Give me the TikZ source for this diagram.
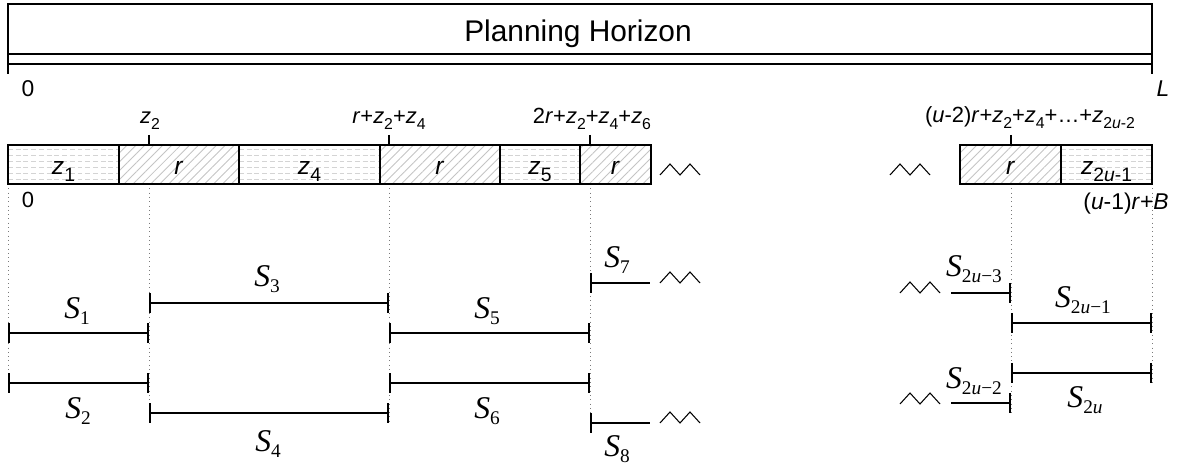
\documentclass[tikz,border=0pt]{standalone}
\usepackage{fontspec}
\setmainfont{Liberation Sans}
\newfontfamily\serifS{Liberation Serif}
\usepackage{tikz}
\usetikzlibrary{arrows.meta,patterns.meta,calc}
\definecolor{hatchGray}{HTML}{C4C4C4}
\definecolor{dashGray}{HTML}{D4D4D4}
\definecolor{guideGray}{HTML}{7A7A7A}
\newcommand{\subfont}{\fontsize{9}{10}\selectfont}
\newcommand{\zsub}[1]{\textit{z}\raisebox{-0.5ex}{\subfont #1}}
\newcommand{\Slab}[1]{\textit{S}\raisebox{-3.8pt}{\fontsize{11}{12}\selectfont #1}}

\begin{document}
\begin{tikzpicture}[
  x=0.02cm,y=-0.02cm,
  font=\fontsize{12.5}{14}\selectfont,
  frame/.style={draw,line width=0.8pt},
  zseg/.style={frame,path picture={
      \foreach \d in {4,10,...,34}
        \draw[dashGray,dash pattern=on 2.8pt off 1.6pt,line width=0.5pt]
          ($(path picture bounding box.north west)+(0,\d)$) -- ++(200,0);}},
  rseg/.style={frame,pattern={Lines[angle=45,distance=3.6pt,line width=0.5pt]},
               pattern color=hatchGray},
  barlbl/.style={anchor=base,
    font=\fontsize{14}{16}\selectfont\renewcommand{\subfont}{\fontsize{11}{12}\selectfont}},
  ticklbl/.style={anchor=base},
  slbl/.style={font=\serifS\fontsize{18}{20}\selectfont},
  guide/.style={guideGray,dotted,line width=0.45pt},
  span/.style={line width=0.7pt,arrows={Bar[width=0.4cm,line width=1.4pt]-Bar[width=0.4cm,line width=1.4pt]}},
  spanL/.style={line width=0.7pt,arrows={Bar[width=0.4cm,line width=1.4pt]-}},
  spanR/.style={line width=0.7pt,arrows={-Bar[width=0.4cm,line width=1.4pt]}},
  zz/.pic={\draw[line width=0.6pt] (0,0) -- (10,-11) -- (20,0) -- (30,-11) -- (40,0);}
]
\useasboundingbox (0,0) rectangle (1187,469);

% Planning horizon
\draw[frame] (8,4) rectangle (1152,54);
\draw[frame] (8,54) rectangle (1152,64);
\draw[frame] (8,64) -- (8,74) (1152,64) -- (1152,74);
\node[anchor=base,font=\fontsize{17}{19}\selectfont] (ph) at (578,42) {Planning Horizon};
\node[ticklbl,font=\fontsize{13}{15}\selectfont] (hzero) at (28,97) {0};
\node[ticklbl,font=\fontsize{13}{15}\selectfont] (hlen) at (1163,97) {\textit{L}};

% Guide lines
\foreach \x/\yb in {8/393,149/423,389/423,590/433,1011/413,1152/383}
  \draw[guide] (\x,184) -- (\x,\yb);

% Segments
\foreach \a/\b in {8/119,239/380,500/580,1061/1152}
  \draw[zseg] (\a,145) rectangle (\b,184);
\foreach \a/\b in {119/239,380/500,580/651,960/1061}
  \draw[rseg] (\a,145) rectangle (\b,184);
\node[barlbl] (sz1) at (63.5,175) {\zsub{1}};
\node[barlbl] (sr1) at (179,175) {\textit{r}};
\node[barlbl] (sz4) at (309.5,175) {\zsub{4}};
\node[barlbl] (sr2) at (440,175) {\textit{r}};
\node[barlbl] (sz5) at (540,175) {\zsub{5}};
\node[barlbl] (sr3) at (615.5,175) {\textit{r}};
\node[barlbl] (srk) at (1010.5,175) {\textit{r}};
\node[barlbl] (szk) at (1106.5,175) {\zsub{2\textit{u}-1}};

% Ticks and tick labels
\foreach \x in {149,389,590,1011}
  \draw[line width=0.6pt] (\x,135) -- (\x,145);
\node[ticklbl] (t1) at (150,124) {\zsub{2}};
\node[ticklbl] (t2) at (389,124) {\textit{r}+\zsub{2}+\zsub{4}};
\node[ticklbl] (t3) at (592,124) {2\textit{r}+\zsub{2}+\zsub{4}+\zsub{6}};
\node[ticklbl] (t4) at (1030,123) {(\textit{u}-2)\textit{r}+\zsub{2}+\zsub{4}+\dots+\zsub{2\textit{u}-2}};
\node[ticklbl] (bzero) at (28,208) {0};
\node[ticklbl,font=\fontsize{13}{15}\selectfont] (bend) at (1126,210) {(\textit{u}-1)\textit{r}+\textit{B}};

% Continuation marks
\foreach \p in {(660,175),(890,175),(660,283),(660,423),(900,293),(900,404)}
  \pic at \p {zz};

% Sub-intervals
\draw[span] (8,333) -- (149,333);
\draw[span] (8,383) -- (149,383);
\draw[span] (149,303) -- (389,303);
\draw[span] (149,413) -- (389,413);
\draw[span] (389,333) -- (590,333);
\draw[span] (389,383) -- (590,383);
\draw[spanL] (590,283) -- (650,283);
\draw[spanL] (590,423) -- (650,423);
\draw[spanR] (951,293) -- (1011,293);
\draw[spanR] (951,403) -- (1011,403);
\draw[span] (1011,323) -- (1152,323);
\draw[span] (1011,373) -- (1152,373);

\node[slbl] (s1) at (77,311) {\Slab{1}};
\node[slbl] (s2) at (78,411) {\Slab{2}};
\node[slbl] (s3) at (267,279) {\Slab{3}};
\node[slbl] (s4) at (268,444) {\Slab{4}};
\node[slbl] (s5) at (487,311) {\Slab{5}};
\node[slbl] (s6) at (487,411) {\Slab{6}};
\node[slbl] (s7) at (617,260) {\Slab{7}};
\node[slbl] (s8) at (617,449) {\Slab{8}};
\node[slbl] (sa) at (974,269) {\Slab{2\textit{u}−3}};
\node[slbl] (sb) at (1083,300) {\Slab{2\textit{u}−1}};
\node[slbl] (sc) at (974,381) {\Slab{2\textit{u}−2}};
\node[slbl] (sd) at (1085,400) {\Slab{2\textit{u}}};
\end{tikzpicture}
\end{document}
